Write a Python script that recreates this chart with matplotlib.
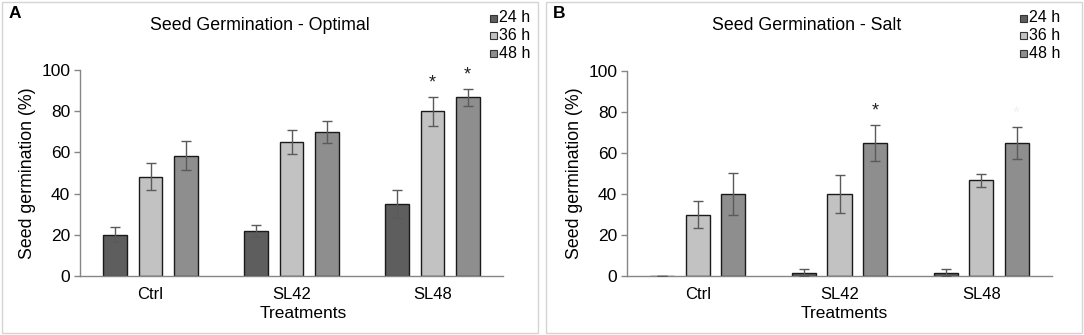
'''
Seed germination of control and SL lines
under optimal and salt conditions
'''
import matplotlib
matplotlib.use('Agg')
import matplotlib.pyplot as plt
from matplotlib.patches import Rectangle
import numpy as np

plt.rcParams['font.family'] = ['Liberation Sans', 'DejaVu Sans']

treatments = ['Ctrl', 'SL42', 'SL48']
hours = ['24 h', '36 h', '48 h']

# Panel A - optimal
opt_24 = [20.0, 21.7, 35.0]
opt_36 = [48.3, 65.0, 80.0]
opt_48 = [58.3, 70.0, 86.7]
opt_24_err = [3.7, 3.0, 6.7]
opt_36_err = [6.5, 5.7, 7.0]
opt_48_err = [7.0, 5.2, 4.3]

# Panel B - salt
salt_24 = [0.0, 1.7, 1.7]
salt_36 = [30.0, 40.0, 46.7]
salt_48 = [40.0, 65.0, 65.0]
salt_24_err = [0.0, 1.8, 1.8]
salt_36_err = [6.5, 9.4, 3.3]
salt_48_err = [10.3, 8.8, 7.7]

# significance marks: (treatment index, hour index)
opt_stars = [(2, 1), (2, 2)]
salt_stars = [(1, 2)]

colors = ['#5e5e5e', '#c2c2c2', '#8e8e8e']


def draw_panel(fig, rect, series, errors, stars, title, title_x, letter, letter_x,
               legend_x, xlab_x):
    ax = fig.add_axes(rect)
    x = np.arange(len(treatments))
    offsets = [-0.25, 0.0, 0.25]
    for i in range(3):
        ax.bar(x + offsets[i], series[i], width=0.17, color=colors[i],
               edgecolor='#1a1a1a', linewidth=1.0, label=hours[i], zorder=2)
        ax.errorbar(x + offsets[i], series[i], yerr=errors[i], fmt='none',
                    ecolor='#5a5a5a', elinewidth=1.0, capsize=3.5, capthick=1.0,
                    zorder=3)
    for t, h in stars:
        top = series[h][t] + errors[h][t]
        ax.text(t + offsets[h], top + 6.5, '*', ha='center', va='center',
                fontsize=13, color='#222222')
    ax.set_xlim(-0.5, 2.5)
    ax.set_ylim(0, 100)
    ax.set_yticks([0, 20, 40, 60, 80, 100])
    ax.set_xticks(x)
    ax.set_xticklabels(treatments, fontsize=12)
    ax.tick_params(axis='x', length=0, pad=8)
    ax.tick_params(axis='y', length=4, width=1, color='#868686', labelsize=12.5,
                   pad=3)
    for s in ['top', 'right']:
        ax.spines[s].set_visible(False)
    for s in ['left', 'bottom']:
        ax.spines[s].set_color('#868686')
        ax.spines[s].set_linewidth(1.0)
    ax.set_ylabel('Seed germination (%)', fontsize=12.8, labelpad=4)

    fig.text(title_x, 1 - 25 / 335, title, ha='center', va='center',
             fontsize=12.8)
    fig.text(letter_x, 1 - 13 / 335, letter, ha='left', va='center',
             fontsize=12.5, fontweight='bold')
    fig.text(xlab_x, 1 - 314 / 335, 'Treatments', ha='center', va='center',
             fontsize=12.5)

    # legend drawn as squares + text in the top right corner
    for i in range(3):
        yy = 1 - (18 + 17.5 * i) / 335
        fig.patches.append(Rectangle((legend_x / 1084, yy - 3.5 / 335),
                                     7 / 1084, 7 / 335,
                                     transform=fig.transFigure,
                                     facecolor=colors[i], edgecolor='#333333',
                                     linewidth=0.8))
        fig.text((legend_x + 9) / 1084, yy, hours[i], ha='left', va='center',
                 fontsize=11.5)
    return ax


fig = plt.figure(figsize=(10.84, 3.35), dpi=100)

# panel frames
for x0, x1 in [(2, 538), (546, 1082)]:
    fig.patches.append(Rectangle((x0 / 1084, 2 / 335), (x1 - x0) / 1084,
                                 331 / 335, transform=fig.transFigure,
                                 fill=False, edgecolor='#d4d4d4',
                                 linewidth=1.0))

draw_panel(fig, [80 / 1084, 59 / 335, 423 / 1084, 206 / 335],
           [opt_24, opt_36, opt_48], [opt_24_err, opt_36_err, opt_48_err],
           opt_stars, 'Seed Germination - Optimal', 260 / 1084,
           'A', 9 / 1084, 490, 303 / 1084)
ax_b = draw_panel(fig, [627 / 1084, 59 / 335, 425 / 1084, 205 / 335],
                  [salt_24, salt_36, salt_48],
                  [salt_24_err, salt_36_err, salt_48_err],
                  salt_stars, 'Seed Germination - Salt', 807 / 1084,
                  'B', 553 / 1084, 1020, 844 / 1084)
# faint leftover mark above SL48 48 h in panel B
ax_b.text(2.25, salt_48[2] + salt_48_err[2] + 6.5, '*', ha='center',
          va='center', fontsize=13, color='#f2f2f2')

fig.savefig('out.png', dpi=100)
